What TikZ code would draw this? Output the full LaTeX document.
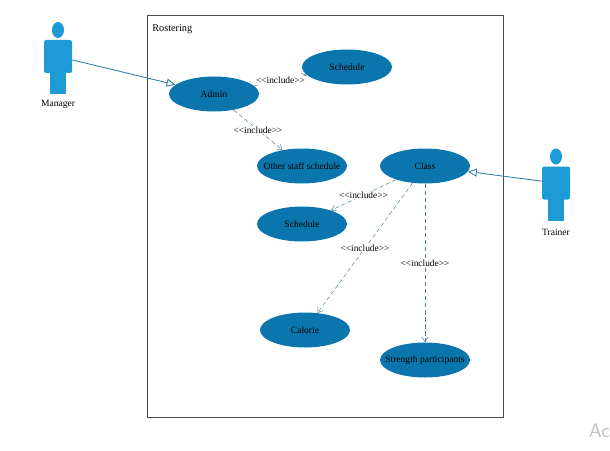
\documentclass[tikz,border=0pt]{standalone}
\usepackage{fontspec}
\setmainfont{Liberation Serif}
\usepackage{xcolor}
\usetikzlibrary{arrows.meta, positioning, calc, shapes.geometric}

\definecolor{casefill}{HTML}{0A76AD}
\definecolor{actorfill}{HTML}{1C9BD6}
\definecolor{linkcol}{HTML}{2A7F9F}

\tikzset{
	usecase/.style={ellipse, fill=casefill, minimum width=2.25cm, minimum height=0.875cm, inner sep=0pt, font=\fontsize{6.8}{9}\selectfont},
	actorbody/.style={rectangle, fill=actorfill, rounded corners=1.5pt, minimum width=0.7cm, minimum height=0.825cm, inner sep=0pt},
	actorname/.style={inner sep=0pt, text height=1.6mm, text depth=0.5mm, font=\fontsize{6.8}{9}\selectfont},
	assoc/.style={draw=linkcol, line width=0.6pt, -{Triangle[open, length=2.2mm, width=2mm]}},
	includes/.style={draw=linkcol!60!gray, line width=0.35pt, dash pattern=on 3pt off 2pt, -{Straight Barb[length=1.2mm, width=1.6mm]}},
	includelbl/.style={fill=white, inner sep=0.5pt, font=\fontsize{6.7}{9}\selectfont}
}

\begin{document}
\begin{tikzpicture}
	
	\useasboundingbox (0,0) rectangle (15.25,11.25);
	\clip (0,0) rectangle (15.25,11.25);
	
	% System boundary
	\draw[black!70, line width=0.7pt] (3.675,0.825) rectangle (12.575,10.875);
	\node[anchor=west, inner sep=0pt, font=\fontsize{7.3}{9}\selectfont] (rostering) at (3.8,10.525) {Rostering};
	
	% Use cases
	\foreach \name/\x/\y/\txt in {
		admin/5.35/8.9/{Admin},
		schedtop/8.675/9.575/{Schedule},
		otherstaff/7.55/7.1/{Other staff schedule},
		class/10.625/7.1/{Class},
		schedlow/7.55/5.65/{Schedule},
		calorie/7.625/3.0/{Calorie},
		strength/10.625/2.25/{Strength participants}}{
		\node[usecase] (\name) at (\x,\y) {\makebox[0pt]{\txt}};
	}
	
	% Actors
	\foreach \name/\x/\y/\gap/\txt in {
		manager/1.45/9.8375/0.66/{Manager},
		trainer/13.9/6.675/0.72/{Trainer}}{
		\node[actorbody] (\name) at (\x,\y) {};
		\fill[actorfill] (\x,\y+0.6625) ellipse (0.15 and 0.2);
		\fill[actorfill] (\x-0.2,\y-0.4) rectangle (\x+0.2,\y-0.9375);
		\node[actorname, below=\gap cm of \name] (\name name) {\txt};
	}
	
	% Associations
	\draw[assoc] (manager) -- (admin);
	\draw[assoc] (trainer) -- (class);
	
	% Include links
	\foreach \from/\to in {
		admin/schedtop,
		admin/otherstaff,
		class/schedlow,
		class/calorie,
		class/strength}{
		\draw[includes] (\from) -- (\to);
		\node[includelbl] (\from\to lbl) at ($(\from)!0.5!(\to)$) {{<}{<}include{>}{>}};
	}
	
	% Watermark corner
	\node[anchor=west, inner sep=0pt, text=gray!50, font=\sffamily\fontsize{14}{16}\selectfont] (corner) at (14.72,0.48) {Ac};
	
\end{tikzpicture}
\end{document}
